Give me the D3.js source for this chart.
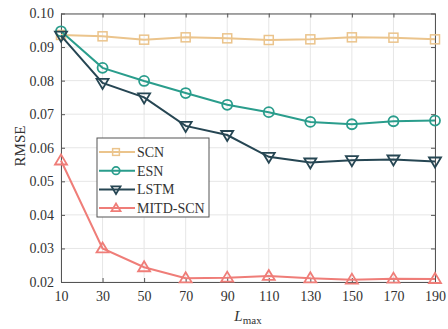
<!DOCTYPE html>
<html>
<head>
<meta charset="utf-8">
<script src="https://cdn.jsdelivr.net/npm/d3@7"></script>
<style>
  body { margin: 0; background: #fff; }
  text { font-family: "Liberation Serif", "Times New Roman", serif; fill: #333; }
</style>
</head>
<body>
<div class="graph"></div>
<script>
var width = 448,
    height = 329;

var lmax = [10, 30, 50, 70, 90, 110, 130, 150, 170, 190];
var scn  = [0.0936, 0.0932, 0.0922, 0.0929, 0.0926, 0.0921, 0.0923, 0.0929, 0.0928, 0.0923];
var esn  = [0.0947, 0.0838, 0.0799, 0.0763, 0.0728, 0.0706, 0.0677, 0.0670, 0.0679, 0.0681];
var lstm = [0.0934, 0.0793, 0.0750, 0.0665, 0.0638, 0.0573, 0.0556, 0.0563, 0.0565, 0.0559];
var mitd = [0.0562, 0.0300, 0.0244, 0.0211, 0.0213, 0.0218, 0.0211, 0.0207, 0.0210, 0.0209];
var yTicks = [0.02, 0.03, 0.04, 0.05, 0.06, 0.07, 0.08, 0.09, 0.10];

var series = [
  { name: "SCN", values: scn, color: "#ebc48c", marker: "square" },
  { name: "ESN", values: esn, color: "#2a9d8c", marker: "circle" },
  { name: "LSTM", values: lstm, color: "#264653", marker: "tridown" },
  { name: "MITD-SCN", values: mitd, color: "#ef7d78", marker: "triup" }
];

var margin = { left: 61, right: 13, top: 13.5, bottom: 47 };
var x = d3.scaleLinear().domain([10, 190]).range([margin.left, width - margin.right]);
var y = d3.scaleLinear().domain([0.02, 0.10]).range([height - margin.bottom, margin.top]);

var svg = d3.select(".graph").append("svg")
    .attr("width", width)
    .attr("height", height);

// grid
svg.append("g").selectAll("line.gx")
  .data(lmax)
  .enter().append("line")
    .attr("x1", function(d) { return x(d); })
    .attr("x2", function(d) { return x(d); })
    .attr("y1", y(0.02)).attr("y2", y(0.10))
    .attr("stroke", "#e6e6e6").attr("stroke-width", 1);
svg.append("g").selectAll("line.gy")
  .data(yTicks)
  .enter().append("line")
    .attr("y1", function(d) { return y(d); })
    .attr("y2", function(d) { return y(d); })
    .attr("x1", x(10)).attr("x2", x(190))
    .attr("stroke", "#e6e6e6").attr("stroke-width", 1);

// axes
var xAxis = d3.axisBottom(x).tickValues(lmax).tickSizeInner(-4).tickSizeOuter(0).tickPadding(9);
var yAxis = d3.axisLeft(y).tickValues(yTicks).tickSizeInner(-4).tickSizeOuter(0).tickPadding(7)
    .tickFormat(d3.format(".2f"));

var gx = svg.append("g").attr("transform", "translate(0," + y(0.02) + ")").call(xAxis);
var gy = svg.append("g").attr("transform", "translate(" + x(10) + ",0)").call(yAxis);
svg.append("g").attr("transform", "translate(0," + y(0.10) + ")")
  .call(d3.axisTop(x).tickValues(lmax).tickSizeInner(-4).tickSizeOuter(0).tickFormat(""));
svg.append("g").attr("transform", "translate(" + x(190) + ",0)")
  .call(d3.axisRight(y).tickValues(yTicks).tickSizeInner(-4).tickSizeOuter(0).tickFormat(""));

svg.selectAll(".domain").attr("stroke", "#555");
svg.selectAll(".tick line").attr("stroke", "#555");
svg.selectAll(".tick text").style("font-size", "14px").attr("fill", "#333");

// lines and markers
var line = d3.line()
    .x(function(d, i) { return x(lmax[i]); })
    .y(function(d) { return y(d); });

function drawMarker(g, type, cx, cy, color, k) {
  k = k || 1;
  if (type === "square") {
    g.append("rect").attr("x", cx - 4.5 * k).attr("y", cy - 4.5 * k).attr("width", 9 * k).attr("height", 9 * k)
      .attr("fill", "none").attr("stroke", color).attr("stroke-width", 1.5);
  } else if (type === "circle") {
    g.append("circle").attr("cx", cx).attr("cy", cy).attr("r", 5 * k)
      .attr("fill", "none").attr("stroke", color).attr("stroke-width", 1.8);
  } else if (type === "tridown") {
    g.append("path").attr("d", "M" + (cx - 6 * k) + "," + (cy - 4 * k) + "L" + (cx + 6 * k) + "," + (cy - 4 * k) + "L" + cx + "," + (cy + 6 * k) + "Z")
      .attr("fill", "none").attr("stroke", color).attr("stroke-width", 1.8);
  } else {
    g.append("path").attr("d", "M" + (cx - 6 * k) + "," + (cy + 4 * k) + "L" + (cx + 6 * k) + "," + (cy + 4 * k) + "L" + cx + "," + (cy - 6 * k) + "Z")
      .attr("fill", "none").attr("stroke", color).attr("stroke-width", 1.8);
  }
}

series.forEach(function(s) {
  svg.append("path")
    .datum(s.values)
    .attr("d", line)
    .attr("fill", "none")
    .attr("stroke", s.color)
    .attr("stroke-width", 2);
  var g = svg.append("g");
  s.values.forEach(function(v, i) {
    drawMarker(g, s.marker, x(lmax[i]), y(v), s.color);
  });
});

// legend
var legend = svg.append("g").attr("transform", "translate(97,138)");
legend.append("rect").attr("width", 112).attr("height", 79)
  .attr("fill", "#fff").attr("stroke", "#555").attr("stroke-width", 1);
series.forEach(function(s, i) {
  var ly = 14 + i * 18.7;
  legend.append("line").attr("x1", 2).attr("x2", 38).attr("y1", ly).attr("y2", ly)
    .attr("stroke", s.color).attr("stroke-width", 2);
  var mg = legend.append("g");
  drawMarker(mg, s.marker, 19, ly, s.color, 0.75);
  legend.append("text").attr("x", 40).attr("y", ly + 5)
    .style("font-size", "14px").text(s.name);
});

// axis labels
svg.append("text")
  .attr("transform", "translate(25,146) rotate(-90)")
  .attr("text-anchor", "middle")
  .style("font-size", "15px")
  .text("RMSE");

var xl = svg.append("text")
  .attr("x", 248).attr("y", 321)
  .attr("text-anchor", "middle")
  .style("font-size", "15px");
xl.append("tspan").style("font-style", "italic").text("L");
xl.append("tspan").attr("dy", 3).style("font-size", "11px").text("max");
</script>
</body>
</html>
